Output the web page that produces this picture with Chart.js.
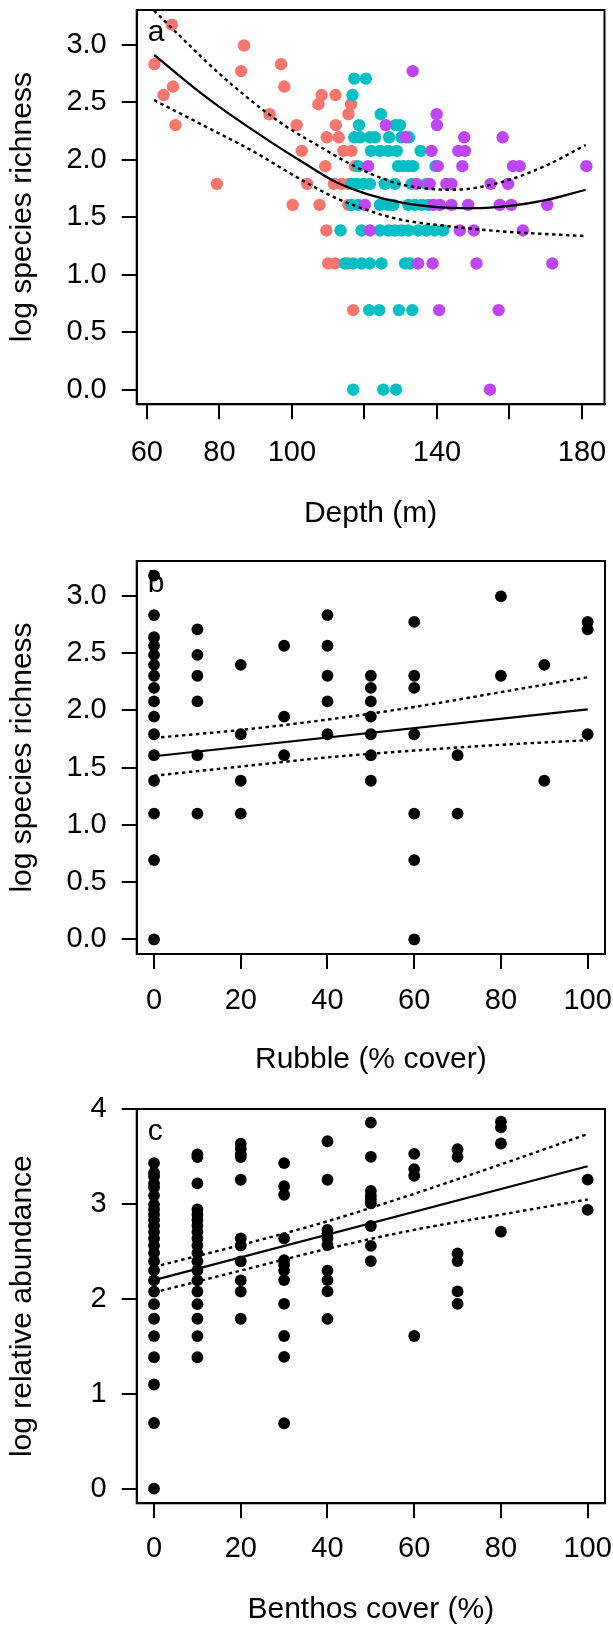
<!DOCTYPE html>
<html>
<head>
<meta charset="utf-8">
<script src="https://cdn.jsdelivr.net/npm/chart.js@4.4.1/dist/chart.umd.min.js"></script>
<style>
body { margin: 0; background: #fff; }
#wrap { position: relative; width: 613px; height: 1631px; }
canvas { position: absolute; left: 0; }
</style>
</head>
<body>
<div id="wrap">
<canvas id="chartA" width="613" height="560" style="top:0px"></canvas>
<canvas id="chartB" width="613" height="560" style="top:545px"></canvas>
<canvas id="chartC" width="613" height="546" style="top:1085px"></canvas>
</div>
<script>
// ---- panel a : richness vs depth (three colour groups) ----
var redDepth = [62.1, 66.9, 64.6, 67.2, 67.9, 79.3, 86.8, 86.0, 97.0, 97.9,
  93.8, 101.3, 102.7, 100.2, 104.2, 107.6, 108.2, 107.3, 112.0, 112.1,
  109.6, 112.9, 109.2, 111.6, 113.8, 115.7, 109.5, 110.0, 111.9, 116.3,
  115.6, 114.2, 116.4, 117.4, 115.6, 115.5, 116.9];
var redRich = [2.833, 3.178, 2.565, 2.639, 2.303, 1.792, 2.996, 2.773, 2.833, 2.639,
  2.398, 2.303, 2.079, 1.609, 1.792, 1.609, 2.565, 2.485, 2.565, 2.303,
  2.197, 2.197, 1.946, 1.792, 1.792, 1.792, 1.386, 1.099, 1.099, 2.485,
  2.398, 2.079, 2.079, 1.946, 1.609, 1.099, 0.693];

var tealDepth = [
  117.2, 120.4,
  116.7,
  124.5,
  118.5, 128.6, 129.8,
  117.2, 118.8, 121.5, 122.9, 126.8, 130.2, 132.3,
  121.8, 124.3, 126.6, 128.9, 135.5,
  118.3, 129.3, 130.7, 132.1, 133.4, 139.6,
  116.5, 117.9, 119.7, 121.5, 125.6, 128.4, 133.0, 137.1,
  116.5, 118.3, 124.3, 126.6, 128.0, 132.1, 133.9, 135.8, 137.6,
  113.4, 119.2, 124.3, 126.6, 128.4, 130.2, 132.1, 134.8, 137.1, 139.4, 141.7,
  114.6, 116.9, 119.2, 121.5, 124.7, 131.2, 132.5,
  121.3, 124.1, 129.5, 133.2,
  116.9, 125.2, 128.7];
var tealRich = [
  2.708, 2.708,
  2.565,
  2.398,
  2.303, 2.303, 2.303,
  2.197, 2.197, 2.197, 2.197, 2.197, 2.197, 2.197,
  2.079, 2.079, 2.079, 2.079, 2.079,
  1.946, 1.946, 1.946, 1.946, 1.946, 1.946,
  1.792, 1.792, 1.792, 1.792, 1.792, 1.792, 1.792, 1.792,
  1.609, 1.609, 1.609, 1.609, 1.609, 1.609, 1.609, 1.609, 1.609,
  1.386, 1.386, 1.386, 1.386, 1.386, 1.386, 1.386, 1.386, 1.386, 1.386, 1.386,
  1.099, 1.099, 1.099, 1.099, 1.099, 1.099, 1.099,
  0.693, 0.693, 0.693, 0.693,
  0, 0, 0];

var purpleDepth = [
  133.3,
  139.9,
  125.9, 140.0,
  131.4, 147.5, 158.1,
  138.5, 145.9, 147.7,
  121.0, 140.2, 147.0, 161.0, 162.8, 181.2,
  134.4, 138.0, 142.6, 144.0, 154.8, 159.6,
  120.1, 139.0, 140.8, 144.0, 148.6, 157.3, 160.5, 170.4,
  121.5, 146.3, 150.2, 163.7,
  134.8, 138.8, 150.9, 171.8,
  140.6, 157.0,
  154.6];
var purpleRich = [
  2.773,
  2.398,
  2.303, 2.303,
  2.197, 2.197, 2.197,
  2.079, 2.079, 2.079,
  1.946, 1.946, 1.946, 1.946, 1.946, 1.946,
  1.792, 1.792, 1.792, 1.792, 1.792, 1.792,
  1.609, 1.609, 1.609, 1.609, 1.609, 1.609, 1.609, 1.609,
  1.386, 1.386, 1.386, 1.386,
  1.099, 1.099, 1.099, 1.099,
  0.693, 0.693,
  0];

// fitted curve and its band
var depthFitX = [62, 75, 85, 94, 103, 112, 121, 130, 140, 150, 160, 170, 181];
var depthFitY = [2.915, 2.58, 2.35, 2.16, 1.98, 1.81, 1.70, 1.63, 1.59, 1.58, 1.60, 1.65, 1.74];
var depthUpX = [62, 71, 80, 89, 98, 108, 117, 124, 131, 144, 157, 170, 181];
var depthUpY = [3.30, 3.02, 2.75, 2.51, 2.30, 2.11, 1.95, 1.85, 1.78, 1.74, 1.80, 1.95, 2.13];
var depthLoX = [62, 75, 89, 103, 112, 123, 130, 144, 157, 170, 181];
var depthLoY = [2.52, 2.31, 2.08, 1.82, 1.67, 1.54, 1.48, 1.42, 1.38, 1.355, 1.337];

// ---- panel b : richness vs rubble ----
var rubbleLevels = [0, 10, 20, 30, 40, 50, 60, 70, 80, 90, 100];
var richByRubble = [
  [3.178, 2.833, 2.639, 2.565, 2.485, 2.398, 2.303, 2.197, 2.079, 1.946, 1.792, 1.609, 1.386, 1.099, 0.693, 0],
  [2.708, 2.485, 2.303, 2.079, 1.609, 1.099],
  [2.398, 1.792, 1.386, 1.099],
  [2.565, 1.946, 1.609],
  [2.833, 2.565, 2.303, 2.079, 1.792],
  [2.303, 2.197, 2.079, 1.946, 1.792, 1.609, 1.386],
  [2.773, 2.303, 2.197, 1.792, 1.099, 0.693, 0],
  [1.609, 1.099],
  [2.996, 2.303],
  [2.398, 1.386],
  [2.773, 2.708, 1.792]
];
var rubbleFitX = [0, 100];
var rubbleFitY = [1.60, 2.01];
var rubbleBandX = [0, 20, 40, 60, 80, 100];
var rubbleUpY = [1.76, 1.83, 1.92, 2.03, 2.16, 2.29];
var rubbleLoY = [1.43, 1.51, 1.59, 1.65, 1.70, 1.74];

// ---- panel c : abundance vs benthos cover ----
var benthosLevels = [0, 10, 20, 30, 40, 50, 60, 70, 80, 100];
var abundByBenthos = [
  [3.434, 3.332, 3.296, 3.219, 3.178, 3.091, 2.996, 2.944, 2.890, 2.833, 2.773, 2.708, 2.639, 2.565, 2.485, 2.398, 2.303, 2.197, 2.079, 1.946, 1.792, 1.609, 1.386, 1.099, 0.693, 0],
  [3.526, 3.497, 3.219, 2.944, 2.890, 2.833, 2.773, 2.708, 2.639, 2.565, 2.485, 2.398, 2.303, 2.197, 2.079, 1.946, 1.792, 1.609, 1.386],
  [3.638, 3.584, 3.526, 3.497, 3.258, 2.639, 2.565, 2.398, 2.197, 2.079, 1.792],
  [3.434, 3.19, 3.10, 2.64, 2.41, 2.36, 2.30, 2.20, 1.95, 1.61, 1.39, 0.69],
  [3.664, 3.258, 2.73, 2.69, 2.64, 2.57, 2.30, 2.20, 2.08, 1.79],
  [3.86, 3.50, 3.14, 3.09, 3.05, 3.01, 2.77, 2.56, 2.40],
  [3.53, 3.37, 3.30, 1.61],
  [3.58, 3.50, 2.48, 2.40, 2.08, 1.95],
  [3.87, 3.81, 3.64, 2.71],
  [3.26, 2.94]
];
var benthosFitX = [0, 100];
var benthosFitY = [2.20, 3.40];
var benthosBandX = [0, 20, 40, 60, 80, 100];
var benthosUpY = [2.34, 2.57, 2.82, 3.11, 3.42, 3.74];
var benthosLoY = [2.07, 2.30, 2.53, 2.73, 2.89, 3.05];

// tick labels
var depthTicks = [60, 80, 100, 120, 140, 160, 180];
var depthTickLabels = ['60', '80', '100', '', '140', '', '180'];
var pctTicks = [0, 20, 40, 60, 80, 100];
var pctTickLabels = ['0', '20', '40', '60', '80', '100'];
var richTicks = [0, 0.5, 1, 1.5, 2, 2.5, 3];
var richTickLabels = ['0.0', '0.5', '1.0', '1.5', '2.0', '2.5', '3.0'];
var abundTicks = [0, 1, 2, 3, 4];
var abundTickLabels = ['0', '1', '2', '3', '4'];

var FONT = "'Liberation Sans', Arial, Helvetica, sans-serif";

function pairs(xs, ys) {
  return xs.map(function (x, i) { return { x: x, y: ys[i] }; });
}
function levelPairs(levels, groups) {
  var out = [];
  for (var i = 0; i < levels.length; i++) {
    for (var j = 0; j < groups[i].length; j++) out.push({ x: levels[i], y: groups[i][j] });
  }
  return out;
}
function pointSet(data, color, r, order) {
  return { data: data, backgroundColor: color, borderWidth: 0, pointRadius: r, pointHoverRadius: r, order: order };
}
function lineSet(data, dashed, smooth) {
  return {
    data: data, showLine: true, pointRadius: 0, borderColor: '#000',
    borderWidth: dashed ? 2.4 : 2.2,
    borderDash: dashed ? [3.5, 3.5] : [], fill: false, order: 0,
    cubicInterpolationMode: smooth ? 'monotone' : 'default', tension: 0
  };
}

// draws the full box and the panel letter
var boxPlugin = {
  id: 'panelBox',
  afterDraw: function (chart, args, opts) {
    var a = chart.chartArea, ctx = chart.ctx;
    ctx.save();
    ctx.strokeStyle = '#000';
    ctx.lineWidth = 2;
    ctx.strokeRect(a.left, a.top, a.right - a.left, a.bottom - a.top);
    ctx.fillStyle = '#000';
    ctx.font = '30px ' + FONT;
    ctx.textBaseline = 'alphabetic';
    ctx.textAlign = 'left';
    ctx.fillText(opts.letter, a.left + 11, a.top + 31);
    ctx.restore();
  }
};

function zeroPad(s) {
  s.paddingLeft = 0; s.paddingRight = 0; s.paddingTop = 0; s.paddingBottom = 0;
}

function makePanel(id, c) {
  return new Chart(document.getElementById(id), {
    type: 'scatter',
    data: { datasets: c.datasets },
    options: {
      responsive: false,
      animation: false,
      devicePixelRatio: 1,
      layout: { padding: { top: c.top, right: c.right, left: 0, bottom: 0 } },
      plugins: {
        legend: { display: false },
        tooltip: { enabled: false },
        panelBox: { letter: c.letter }
      },
      scales: {
        x: {
          type: 'linear', min: c.xMin, max: c.xMax,
          afterBuildTicks: function (s) { s.ticks = c.xTicks.map(function (v) { return { value: v }; }); },
          afterFit: function (s) { s.height = c.xHeight; zeroPad(s); },
          grid: { display: true, drawOnChartArea: false, drawTicks: true, tickLength: 15, color: '#000', lineWidth: 2 },
          border: { display: true, color: '#000', width: 2 },
          ticks: {
            font: { family: FONT, size: 29 }, color: '#000', padding: c.xPad,
            maxRotation: 0, autoSkip: false,
            callback: function (v, i) { return c.xLabels[i]; }
          },
          title: { display: true, text: c.xTitle, color: '#000', font: { family: FONT, size: 30 }, padding: { top: 0, bottom: c.xTitlePad } }
        },
        y: {
          type: 'linear', min: c.yMin, max: c.yMax,
          afterBuildTicks: function (s) { s.ticks = c.yTicks.map(function (v) { return { value: v }; }); },
          afterFit: function (s) { s.width = 136.7; zeroPad(s); },
          grid: { display: true, drawOnChartArea: false, drawTicks: true, tickLength: 15, color: '#000', lineWidth: 2 },
          border: { display: true, color: '#000', width: 2 },
          ticks: {
            font: { family: FONT, size: 29 }, color: '#000', padding: 15,
            autoSkip: false,
            callback: function (v, i) { return c.yLabels[i]; }
          },
          title: { display: true, text: c.yTitle, color: '#000', font: { family: FONT, size: 30 }, padding: { top: 5, bottom: 0 } }
        }
      }
    },
    plugins: [boxPlugin]
  });
}

var PT_A = 6.2, PT_B = 5.9;

makePanel('chartA', {
  letter: 'a', top: 10, right: 8.5, xHeight: 155.7, xPad: 16.5, xTitlePad: 28,
  xMin: 57.2, xMax: 186.2, yMin: -0.127, yMax: 3.305,
  xTicks: depthTicks, xLabels: depthTickLabels, yTicks: richTicks, yLabels: richTickLabels,
  xTitle: 'Depth (m)', yTitle: 'log species richness',
  datasets: [
    lineSet(pairs(depthFitX, depthFitY), false, true),
    lineSet(pairs(depthUpX, depthUpY), true, true),
    lineSet(pairs(depthLoX, depthLoY), true, true),
    pointSet(pairs(purpleDepth, purpleRich), '#BE46F8', PT_A, 1),
    pointSet(pairs(tealDepth, tealRich), '#00BFC4', PT_A, 2),
    pointSet(pairs(redDepth, redRich), '#F8766D', PT_A, 3)
  ]
});

makePanel('chartB', {
  letter: 'b', top: 16, right: 8, xHeight: 151, xPad: 15, xTitlePad: 27.6,
  xMin: -4, xMax: 104, yMin: -0.127, yMax: 3.305,
  xTicks: pctTicks, xLabels: pctTickLabels, yTicks: richTicks, yLabels: richTickLabels,
  xTitle: 'Rubble (% cover)', yTitle: 'log species richness',
  datasets: [
    lineSet(pairs(rubbleFitX, rubbleFitY), false, false),
    lineSet(pairs(rubbleBandX, rubbleUpY), true, true),
    lineSet(pairs(rubbleBandX, rubbleLoY), true, true),
    pointSet(levelPairs(rubbleLevels, richByRubble), '#000', PT_B, 1)
  ]
});

makePanel('chartC', {
  letter: 'c', top: 24, right: 8, xHeight: 127.7, xPad: 13.7, xTitlePad: 3,
  xMin: -4, xMax: 104, yMin: -0.154, yMax: 4.004,
  xTicks: pctTicks, xLabels: pctTickLabels, yTicks: abundTicks, yLabels: abundTickLabels,
  xTitle: 'Benthos cover (%)', yTitle: 'log relative abundance',
  datasets: [
    lineSet(pairs(benthosFitX, benthosFitY), false, false),
    lineSet(pairs(benthosBandX, benthosUpY), true, true),
    lineSet(pairs(benthosBandX, benthosLoY), true, true),
    pointSet(levelPairs(benthosLevels, abundByBenthos), '#000', PT_B, 1)
  ]
});
</script>
</body>
</html>
